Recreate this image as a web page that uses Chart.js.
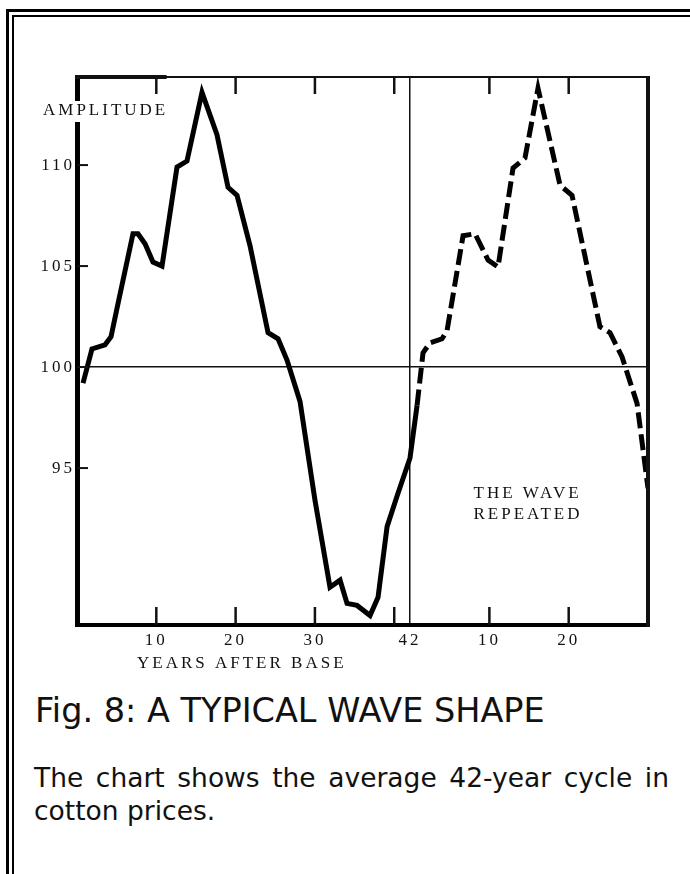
<!DOCTYPE html>
<html>
<head>
<meta charset="utf-8">
<script src="https://cdn.jsdelivr.net/npm/chart.js@4.4.1/dist/chart.umd.min.js"></script>
<style>
html, body { margin: 0; padding: 0; background: #fff; }
body { width: 690px; height: 874px; position: relative; overflow: hidden; }
.frame-outer { position: absolute; left: 6px; top: 9px; right: -10px; bottom: -10px; border-top: 3px solid #000; border-left: 3px solid #000; }
.frame-inner { position: absolute; left: 12px; top: 15px; right: -10px; bottom: -10px; border-top: 2px solid #000; border-left: 2px solid #000; }
#chart { position: absolute; left: 0; top: 0; }
.caption { position: absolute; left: 35px; top: 695px; font-family: 'DejaVu Sans', sans-serif; font-size: 33.5px; line-height: 32px; color: #111; white-space: nowrap; }
.note { position: absolute; left: 34px; top: 761px; width: 635px; margin: 0; font-family: 'DejaVu Sans', sans-serif; font-size: 26.5px; line-height: 33px; text-align: justify; color: #111; }
</style>
</head>
<body>
<div class="frame-outer"></div>
<div class="frame-inner"></div>
<canvas id="chart" width="690" height="690"></canvas>
<div class="caption">Fig. 8: A TYPICAL WAVE SHAPE</div>
<p class="note">The chart shows the average 42-year cycle in cotton prices.</p>
<script>
// the 42-year cycle (solid)
const years = [0.76, 1.89, 3.53, 4.29, 5.04, 7.06, 7.69, 8.58, 9.58, 10.72, 12.61, 13.87, 15.76, 17.65, 19.04, 20.18, 21.82, 24.09, 25.35, 26.48, 28.12, 30.01, 31.9, 33.17, 34.05, 35.31, 36.95, 37.96, 39.1, 40.35, 41.99, 42.88];
const amplitude = [99.2, 100.9, 101.1, 101.5, 102.9, 106.6, 106.6, 106.1, 105.2, 105.0, 109.9, 110.2, 113.6, 111.5, 108.9, 108.5, 106.0, 101.7, 101.4, 100.35, 98.3, 93.4, 89.1, 89.45, 88.3, 88.2, 87.7, 88.6, 92.1, 93.6, 95.5, 98.1];

// the wave repeated (dashed)
const repeatYears = [42.88, 43.63, 44.51, 46.03, 46.66, 48.68, 50.19, 51.83, 53.09, 54.98, 56.49, 58.13, 60.91, 62.42, 65.94, 67.21, 68.73, 70.62, 72.0];
const repeatAmplitude = [98.1, 100.7, 101.2, 101.4, 101.8, 106.5, 106.6, 105.3, 104.95, 109.85, 110.35, 113.8, 109.0, 108.5, 102.0, 101.7, 100.5, 98.2, 94.0];

const xTickValues = [10, 20, 30, 40, 42, 52, 62];
const xTickLabels = ['10', '20', '30', '', '42', '10', '20'];
const markTicks = [10, 20, 30, 40, 52, 62];
const yTickValues = [95, 100, 105, 110];

const serif = "'Liberation Serif', 'Times New Roman', serif";
Chart.defaults.font.family = serif;
Chart.defaults.color = '#111';

function line(ctx, x1, y1, x2, y2) {
    ctx.beginPath();
    ctx.moveTo(x1, y1);
    ctx.lineTo(x2, y2);
    ctx.stroke();
}

const decor = {
    id: 'decor',
    beforeDraw(chart) {
        chart.ctx.letterSpacing = '3px';
    },
    afterDraw(chart) {
        const ctx = chart.ctx;
        const a = chart.chartArea;
        const x = chart.scales.x;
        const y = chart.scales.y;
        ctx.save();
        ctx.strokeStyle = '#111';

        // top and right edges of the frame
        ctx.lineWidth = 2;
        line(ctx, a.left, a.top, a.right, a.top);
        ctx.lineWidth = 4;
        line(ctx, a.left - 2, a.top, x.getPixelForValue(11.3), a.top);
        line(ctx, a.right, a.top - 1, a.right, a.bottom + 2);

        // tick marks pointing inwards
        ctx.lineWidth = 2.5;
        markTicks.forEach(v => {
            const px = x.getPixelForValue(v);
            line(ctx, px, a.top, px, a.top + 17);
            line(ctx, px, a.bottom, px, a.bottom - 18);
        });
        ctx.lineWidth = 2;
        yTickValues.forEach(v => {
            const py = y.getPixelForValue(v);
            line(ctx, a.left, py, a.left + 11, py);
        });

        // labels
        ctx.font = '17px ' + serif;
        ctx.letterSpacing = '3px';
        ctx.textBaseline = 'middle';
        ctx.textAlign = 'left';

        const ampW = ctx.measureText('AMPLITUDE').width;
        ctx.fillStyle = '#fff';
        ctx.fillRect(a.left - 36, a.top + 24, ampW + 4, 21);
        ctx.fillStyle = '#111';
        ctx.fillText('AMPLITUDE', a.left - 34, a.top + 34);

        ctx.fillText('YEARS AFTER BASE', a.left + 60, a.bottom + 39);

        ctx.fillText('THE WAVE', x.getPixelForValue(50), y.getPixelForValue(93.76));
        ctx.fillText('REPEATED', x.getPixelForValue(50), y.getPixelForValue(92.72));
        ctx.restore();
    }
};

new Chart(document.getElementById('chart'), {
    type: 'line',
    data: {
        datasets: [
            {
                data: years.map((v, i) => ({ x: v, y: amplitude[i] })),
                borderColor: '#000',
                borderWidth: 5,
                borderJoinStyle: 'miter',
                pointRadius: 0,
                tension: 0
            },
            {
                data: repeatYears.map((v, i) => ({ x: v, y: repeatAmplitude[i] })),
                borderColor: '#000',
                borderWidth: 5,
                borderDash: [16, 6],
                borderJoinStyle: 'miter',
                pointRadius: 0,
                tension: 0
            }
        ]
    },
    options: {
        responsive: false,
        animation: false,
        devicePixelRatio: 1,
        layout: { padding: { top: 77, right: 42, left: 0, bottom: 0 } },
        plugins: { legend: { display: false }, tooltip: { enabled: false } },
        scales: {
            x: {
                type: 'linear',
                min: 0,
                max: 72,
                afterFit: s => { s.height = 65; },
                afterBuildTicks: s => { s.ticks = xTickValues.map(v => ({ value: v })); },
                ticks: {
                    autoSkip: false,
                    maxRotation: 0,
                    padding: 5,
                    font: { size: 17 },
                    callback: v => xTickLabels[xTickValues.indexOf(v)]
                },
                grid: {
                    drawTicks: false,
                    lineWidth: 1.5,
                    color: c => (c.tick && c.tick.value === 42 ? '#111' : 'rgba(0,0,0,0)')
                },
                border: { display: true, color: '#000', width: 4 }
            },
            y: {
                min: 87.23,
                max: 114.36,
                afterFit: s => { s.width = 77; },
                afterBuildTicks: s => { s.ticks = yTickValues.map(v => ({ value: v })); },
                ticks: {
                    padding: 2,
                    font: { size: 17 },
                    callback: v => String(v)
                },
                grid: {
                    drawTicks: false,
                    lineWidth: 1.5,
                    color: c => (c.tick && c.tick.value === 100 ? '#111' : 'rgba(0,0,0,0)')
                },
                border: { display: true, color: '#000', width: 5 }
            }
        }
    },
    plugins: [decor]
});
</script>
</body>
</html>
